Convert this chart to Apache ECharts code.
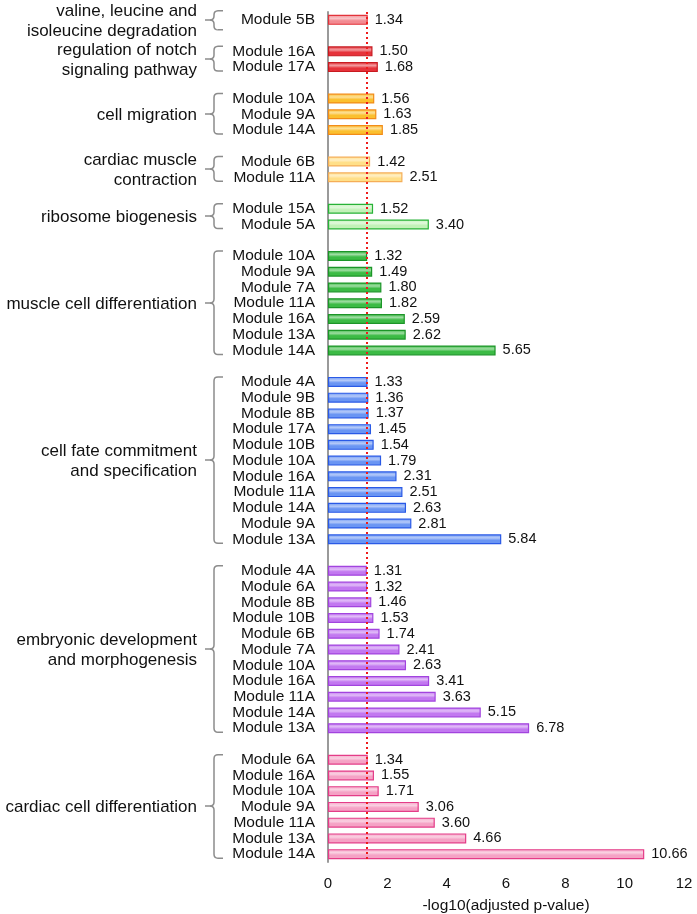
<!DOCTYPE html>
<html>
<head>
<meta charset="utf-8">
<script src="https://cdn.jsdelivr.net/npm/echarts@6/dist/echarts.min.js"></script>
<style>html,body{margin:0;padding:0;background:#fff}#c{width:697px;height:914px}</style>
</head>
<body>
<div id="c"></div>
<script>
const groupNames = [
  'valine, leucine and\nisoleucine degradation',
  'regulation of notch\nsignaling pathway',
  'cell migration',
  'cardiac muscle\ncontraction',
  'ribosome biogenesis',
  'muscle cell differentiation',
  'cell fate commitment\nand specification',
  'embryonic development\nand morphogenesis',
  'cardiac cell differentiation'
];
const groupModules = [
  ['Module 5B'],
  ['Module 16A', 'Module 17A'],
  ['Module 10A', 'Module 9A', 'Module 14A'],
  ['Module 6B', 'Module 11A'],
  ['Module 15A', 'Module 5A'],
  ['Module 10A', 'Module 9A', 'Module 7A', 'Module 11A', 'Module 16A', 'Module 13A', 'Module 14A'],
  ['Module 4A', 'Module 9B', 'Module 8B', 'Module 17A', 'Module 10B', 'Module 10A', 'Module 16A', 'Module 11A', 'Module 14A', 'Module 9A', 'Module 13A'],
  ['Module 4A', 'Module 6A', 'Module 8B', 'Module 10B', 'Module 6B', 'Module 7A', 'Module 10A', 'Module 16A', 'Module 11A', 'Module 14A', 'Module 13A'],
  ['Module 6A', 'Module 16A', 'Module 10A', 'Module 9A', 'Module 11A', 'Module 13A', 'Module 14A']
];
const groupValues = [
  [1.34],
  [1.50, 1.68],
  [1.56, 1.63, 1.85],
  [1.42, 2.51],
  [1.52, 3.40],
  [1.32, 1.49, 1.80, 1.82, 2.59, 2.62, 5.65],
  [1.33, 1.36, 1.37, 1.45, 1.54, 1.79, 2.31, 2.51, 2.63, 2.81, 5.84],
  [1.31, 1.32, 1.46, 1.53, 1.74, 2.41, 2.63, 3.41, 3.63, 5.15, 6.78],
  [1.34, 1.55, 1.71, 3.06, 3.60, 4.66, 10.66]
];
const xTicks = [0, 2, 4, 6, 8, 10, 12];
const threshold = 1.301; // -log10(0.05)

// styles (fill, border) per group
const groupFill = ['#f38a91', '#e6323a', '#fbc02f', '#ffdf88', '#c2f2b8', '#3cbb45', '#6a95f3', '#c278f0', '#f5a2c5'];
const groupBorder = ['#e2333a', '#c81a20', '#f28c18', '#f5ae58', '#28b238', '#1c9528', '#2a5ae6', '#a244de', '#e43c88'];

function lighten(hex, t) {
  const n = parseInt(hex.slice(1), 16);
  let r = n >> 16, g = (n >> 8) & 255, b = n & 255;
  r = Math.round(r + (255 - r) * t); g = Math.round(g + (255 - g) * t); b = Math.round(b + (255 - b) * t);
  return 'rgb(' + r + ',' + g + ',' + b + ')';
}

const cats = [], labels = [], data = [], groupRows = [];
groupModules.forEach((mods, gi) => {
  if (gi > 0) { cats.push('gap' + gi); labels.push(''); data.push('-'); }
  const rows = [];
  mods.forEach((m, mi) => {
    rows.push(cats.length);
    cats.push('r' + cats.length);
    labels.push(m);
    const fill = groupFill[gi];
    data.push({
      value: groupValues[gi][mi],
      itemStyle: {
        borderColor: groupBorder[gi],
        borderWidth: 1.2,
        color: new echarts.graphic.LinearGradient(0, 0, 0, 1, [
          { offset: 0, color: fill },
          { offset: 0.35, color: lighten(fill, 0.5) },
          { offset: 0.6, color: fill },
          { offset: 1, color: fill }
        ])
      }
    });
  });
  groupRows.push(rows);
});

const FONT = '"Liberation Sans", Arial, Helvetica, sans-serif';
const chart = echarts.init(document.getElementById('c'), null, { renderer: 'canvas' });
chart.setOption({
  animation: false,
  backgroundColor: '#fff',
  grid: { left: 328, right: 13, top: 12, bottom: 52, containLabel: false, outerBoundsMode: 'none' },
  xAxis: {
    type: 'value', min: 0, max: 12, interval: 2,
    axisLine: { show: false }, axisTick: { show: false }, splitLine: { show: false },
    axisLabel: { fontSize: 15, color: '#111', fontFamily: FONT, margin: 14, formatter: v => String(v) },
    name: '-log10(adjusted p-value)', nameLocation: 'middle', nameGap: 36,
    nameTextStyle: { fontSize: 15.5, color: '#111', fontFamily: FONT }
  },
  yAxis: {
    type: 'category', data: cats, inverse: true,
    axisLine: { show: true, lineStyle: { color: '#9a9a9a', width: 2 } },
    axisTick: { show: false }, splitLine: { show: false },
    axisLabel: { interval: 0, fontSize: 15.5, color: '#111', fontFamily: FONT, margin: 13,
      formatter: (v, i) => labels[i] }
  },
  series: [{
    type: 'bar', data: data, barWidth: 10,
    label: { show: true, position: 'right', distance: 7, fontSize: 14.5, color: '#111', fontFamily: FONT,
      formatter: p => p.value.toFixed(2) },
    markLine: {
      silent: true, symbol: ['none', 'none'],
      label: { show: false },
      lineStyle: { color: '#ee1c1c', type: [2, 3], width: 2 },
      data: [{ xAxis: threshold }]
    }
  }]
});

// group brackets & labels positioned from the axis scale
const x0 = chart.convertToPixel({ xAxisIndex: 0 }, 0);
const bx = x0 - 114;
const graphics = [];
function corner(cx, cy, sx, sy, ex, ey) {
  const pts = [];
  for (let k = 0; k <= 4; k++) {
    const t = k / 4;
    pts.push([(1 - t) * (1 - t) * sx + 2 * (1 - t) * t * cx + t * t * ex,
              (1 - t) * (1 - t) * sy + 2 * (1 - t) * t * cy + t * t * ey]);
  }
  return pts;
}
groupRows.forEach((rows, gi) => {
  const yFirst = chart.convertToPixel({ yAxisIndex: 0 }, rows[0]);
  const yLast = chart.convertToPixel({ yAxisIndex: 0 }, rows[rows.length - 1]);
  let top, bot;
  if (rows.length === 1) { top = yFirst - 9; bot = yFirst + 10; }
  else { top = yFirst - 5; bot = yLast + 4; }
  const mid = Math.round((top + bot) / 2);
  const r = 4;
  const upper = [[bx + 9, top]].concat(corner(bx, top, bx + r, top, bx, top + r))
    .concat(corner(bx, mid, bx, mid - r, bx - r, mid)).concat([[bx - 9, mid]]);
  const lower = [[bx - r, mid]].concat(corner(bx, mid, bx - r, mid, bx, mid + r))
    .concat(corner(bx, bot, bx, bot - r, bx + r, bot)).concat([[bx + 9, bot]]);
  [upper, lower].forEach(pts => graphics.push({
    type: 'polyline', shape: { points: pts },
    style: { fill: null, stroke: '#8c8c8c', lineWidth: 1.5 }
  }));
  graphics.push({
    type: 'text', x: bx - 17, y: mid + 1,
    style: { text: groupNames[gi], fill: '#111', font: '17px ' + FONT, align: 'right', verticalAlign: 'middle', lineHeight: 20 }
  });
});
chart.setOption({ graphic: graphics });
</script>
</body>
</html>
